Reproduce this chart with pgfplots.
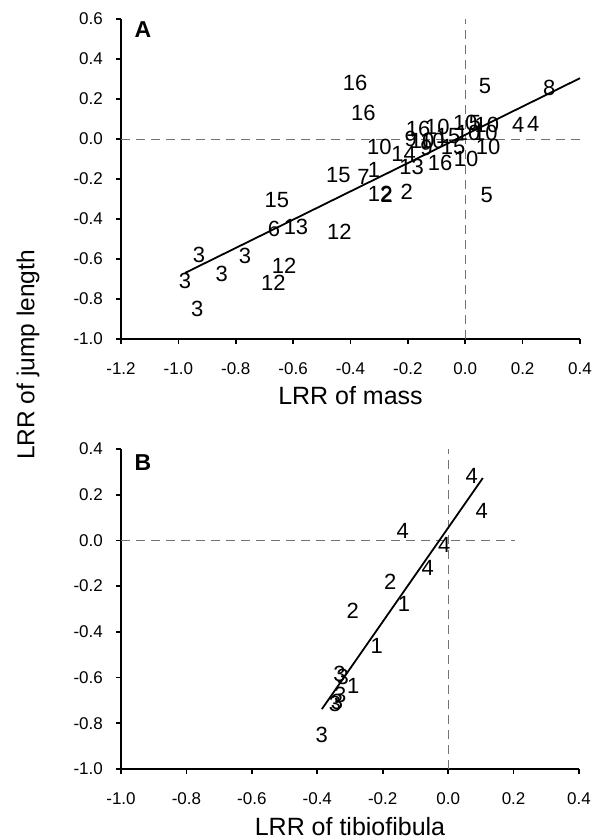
\documentclass[border=0pt]{standalone}
\usepackage{fontspec}
\setmainfont{Liberation Sans}
\usepackage{pgfplots}
\usepackage{pgfplotstable}
\pgfplotsset{compat=1.18}

\pgfplotstableread{
x y lab
-0.384 0.282 16
0.069 0.267 5
0.293 0.254 8
-0.355 0.132 16
0.185 0.071 4
0.237 0.076 4
-0.299 -0.038 10
-0.215 -0.075 14
-0.187 -0.140 13
-0.088 -0.118 16
0.003 -0.100 10
0.080 -0.038 10
-0.442 -0.179 15
-0.355 -0.188 7
-0.318 -0.154 1
-0.297 -0.273 12
-0.274 -0.279 2
-0.204 -0.262 2
0.075 -0.279 5
-0.657 -0.304 15
-0.667 -0.450 6
-0.590 -0.442 13
-0.439 -0.462 12
-0.928 -0.579 3
-0.768 -0.587 3
-0.849 -0.674 3
-0.977 -0.712 3
-0.631 -0.634 12
-0.669 -0.717 12
-0.934 -0.850 3
-0.164 0.048 16
-0.097 0.060 10
0.000 0.080 10
0.034 0.078 5
0.075 0.070 10
-0.190 0.000 9
-0.150 -0.010 10
-0.115 -0.010 10
-0.060 0.015 15
0.010 0.030 10
0.070 0.030 10
-0.135 -0.045 9
-0.042 -0.038 15
}\dataA

\pgfplotstableread{
x y lab
0.072 0.283 4
0.103 0.127 4
-0.139 0.043 4
-0.012 -0.021 4
-0.062 -0.121 4
-0.177 -0.179 2
-0.135 -0.277 1
-0.292 -0.307 2
-0.218 -0.463 1
-0.332 -0.583 3
-0.322 -0.595 3
-0.290 -0.635 1
-0.330 -0.675 3
-0.346 -0.714 3
-0.340 -0.705 3
-0.386 -0.850 3
}\dataB

\pgfplotsset{
  myax/.style={
    scale only axis,
    height=320pt,
    axis x line*=bottom, axis y line*=left,
    axis line style={line width=1.6pt, -},
    every tick/.style={line width=1.6pt, black},
    tick align=outside, major tick length=5pt,
    scaled ticks=false,
    /pgf/number format/fixed,
    /pgf/number format/fixed zerofill,
    /pgf/number format/precision=1,
    /pgf/number format/assume math mode=true,
    tick label style={font=\fontsize{17}{19}\selectfont},
    xticklabel style={anchor=base, inner sep=0pt, yshift=-30.5pt},
    yticklabel style={anchor=east, inner sep=0pt, xshift=-13pt},
    ymin=-1.0,
    clip=false,
    xlabel style={font=\fontsize{25}{27}\selectfont, at={(axis description cs:0.5,0)}, anchor=base, inner sep=0pt, yshift=-66pt},
  },
  lab/.style={draw=none, mark=none, nodes near coords, point meta=explicit symbolic,
    nodes near coords align={center},
    every node near coord/.append style={font=\fontsize{22}{22}\selectfont, inner sep=0pt, text=black, anchor=center}},
  dsh/.style={draw={rgb,255:red,115;green,115;blue,115}, line width=0.8pt, dash pattern=on 9pt off 6pt, mark=none},
  fit/.style={black, line width=1.8pt, mark=none},
}

\begin{document}
\begin{tikzpicture}
\useasboundingbox (0,0) rectangle (593pt,839pt);

\begin{axis}[myax, at={(121pt,500pt)}, anchor=south west, width=459pt,
  xmin=-1.2, xmax=0.4, ymax=0.6,
  xtick={-1.2,-1.0,-0.8,-0.6,-0.4,-0.2,0,0.2,0.4},
  ytick={-1.0,-0.8,-0.6,-0.4,-0.2,0,0.2,0.4,0.6},
  xlabel={LRR of mass}]
\addplot[dsh] coordinates {(-1.2,0) (0.4,0)};
\addplot[dsh] coordinates {(0,-1.0) (0,0.6)};
\addplot[fit] coordinates {(-0.977,-0.670) (0.40,0.304)};
\addplot[lab] table[x=x, y=y, meta=lab] {\dataA};
\node[font=\fontsize{23}{23}\selectfont\bfseries, inner sep=0pt] at (axis description cs:0.048,0.966) {A};
\end{axis}

\begin{axis}[myax, at={(121pt,70pt)}, anchor=south west, width=458pt,
  xmin=-1.0, xmax=0.4, ymax=0.4,
  xtick={-1.0,-0.8,-0.6,-0.4,-0.2,0,0.2,0.4},
  ytick={-1.0,-0.8,-0.6,-0.4,-0.2,0,0.2,0.4},
  xlabel={LRR of tibiofibula}]
\addplot[dsh] coordinates {(-1.0,0) (0.205,0)};
\addplot[dsh] coordinates {(0,-1.0) (0,0.4)};
\addplot[fit] coordinates {(-0.386,-0.738) (0.106,0.273)};
\addplot[lab] table[x=x, y=y, meta=lab] {\dataB};
\node[font=\fontsize{23}{23}\selectfont\bfseries, inner sep=0pt] at (axis description cs:0.048,0.959) {B};
\end{axis}

\node[rotate=90, font=\fontsize{24.5}{26}\selectfont, inner sep=0pt] at (28pt,484pt) {LRR of jump length};
\end{tikzpicture}
\end{document}
